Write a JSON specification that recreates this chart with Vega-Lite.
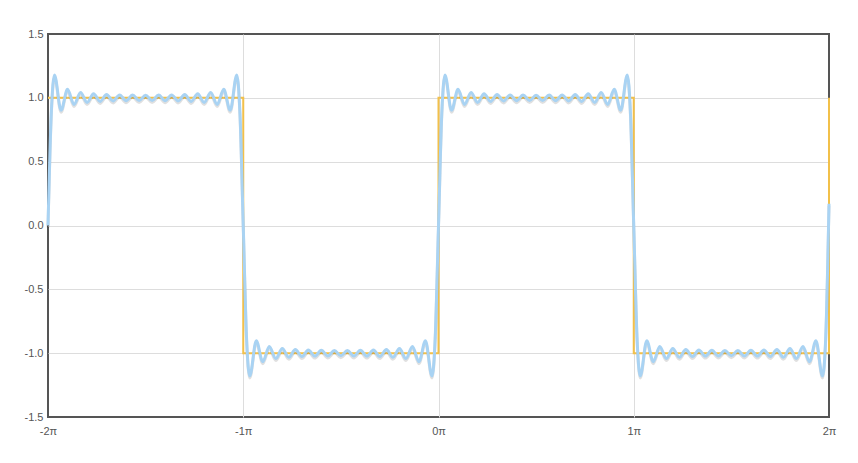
{
  "$schema": "https://vega.github.io/schema/vega-lite/v6.json",
  "autosize": "none",
  "width": 781,
  "height": 383,
  "padding": {"left": 48, "top": 34, "right": 29, "bottom": 46},
  "background": "#ffffff",
  "config": {
    "view": {"stroke": "#555555", "strokeWidth": 2, "strokeOpacity": 1},
    "font": "Liberation Sans",
    "axis": {
      "labelFont": "Liberation Sans",
      "labelFontSize": 11,
      "labelColor": "#555555",
      "gridColor": "#dddddd",
      "gridWidth": 1,
      "domain": false,
      "ticks": false,
      "title": null
    }
  },
  "datasets": {
    "fourier": [
      {"x": -2, "y": 0}, {"x": -1.9833, "y": 0.873}, {"x": -1.9667, "y": 1.179}, {"x": -1.9333, "y": 0.902},
      {"x": -1.9, "y": 1.067}, {"x": -1.8667, "y": 0.948}, {"x": -1.8333, "y": 1.042}, {"x": -1.8, "y": 0.964},
      {"x": -1.7667, "y": 1.032}, {"x": -1.7333, "y": 0.972}, {"x": -1.7, "y": 1.026}, {"x": -1.6667, "y": 0.976},
      {"x": -1.6333, "y": 1.023}, {"x": -1.6, "y": 0.978}, {"x": -1.5667, "y": 1.022}, {"x": -1.5333, "y": 0.979},
      {"x": -1.5, "y": 1.021}, {"x": -1.4667, "y": 0.979}, {"x": -1.4333, "y": 1.022}, {"x": -1.4, "y": 0.978},
      {"x": -1.3667, "y": 1.023}, {"x": -1.3333, "y": 0.976}, {"x": -1.3, "y": 1.026}, {"x": -1.2667, "y": 0.972},
      {"x": -1.2333, "y": 1.032}, {"x": -1.2, "y": 0.964}, {"x": -1.1667, "y": 1.042}, {"x": -1.1333, "y": 0.948},
      {"x": -1.1, "y": 1.067}, {"x": -1.0667, "y": 0.902}, {"x": -1.0333, "y": 1.179}, {"x": -1.0167, "y": 0.873},
      {"x": -1, "y": 0}, {"x": -0.9833, "y": -0.873}, {"x": -0.9667, "y": -1.179}, {"x": -0.9333, "y": -0.902},
      {"x": -0.9, "y": -1.067}, {"x": -0.8667, "y": -0.948}, {"x": -0.8333, "y": -1.042}, {"x": -0.8, "y": -0.964},
      {"x": -0.7667, "y": -1.032}, {"x": -0.7333, "y": -0.972}, {"x": -0.7, "y": -1.026}, {"x": -0.6667, "y": -0.976},
      {"x": -0.6333, "y": -1.023}, {"x": -0.6, "y": -0.978}, {"x": -0.5667, "y": -1.022}, {"x": -0.5333, "y": -0.979},
      {"x": -0.5, "y": -1.021}, {"x": -0.4667, "y": -0.979}, {"x": -0.4333, "y": -1.022}, {"x": -0.4, "y": -0.978},
      {"x": -0.3667, "y": -1.023}, {"x": -0.3333, "y": -0.976}, {"x": -0.3, "y": -1.026}, {"x": -0.2667, "y": -0.972},
      {"x": -0.2333, "y": -1.032}, {"x": -0.2, "y": -0.964}, {"x": -0.1667, "y": -1.042}, {"x": -0.1333, "y": -0.948},
      {"x": -0.1, "y": -1.067}, {"x": -0.0667, "y": -0.902}, {"x": -0.0333, "y": -1.179}, {"x": -0.0167, "y": -0.873},
      {"x": 0, "y": 0}, {"x": 0.0167, "y": 0.873}, {"x": 0.0333, "y": 1.179}, {"x": 0.0667, "y": 0.902},
      {"x": 0.1, "y": 1.067}, {"x": 0.1333, "y": 0.948}, {"x": 0.1667, "y": 1.042}, {"x": 0.2, "y": 0.964},
      {"x": 0.2333, "y": 1.032}, {"x": 0.2667, "y": 0.972}, {"x": 0.3, "y": 1.026}, {"x": 0.3333, "y": 0.976},
      {"x": 0.3667, "y": 1.023}, {"x": 0.4, "y": 0.978}, {"x": 0.4333, "y": 1.022}, {"x": 0.4667, "y": 0.979},
      {"x": 0.5, "y": 1.021}, {"x": 0.5333, "y": 0.979}, {"x": 0.5667, "y": 1.022}, {"x": 0.6, "y": 0.978},
      {"x": 0.6333, "y": 1.023}, {"x": 0.6667, "y": 0.976}, {"x": 0.7, "y": 1.026}, {"x": 0.7333, "y": 0.972},
      {"x": 0.7667, "y": 1.032}, {"x": 0.8, "y": 0.964}, {"x": 0.8333, "y": 1.042}, {"x": 0.8667, "y": 0.948},
      {"x": 0.9, "y": 1.067}, {"x": 0.9333, "y": 0.902}, {"x": 0.9667, "y": 1.179}, {"x": 0.9833, "y": 0.873},
      {"x": 1, "y": 0}, {"x": 1.0167, "y": -0.873}, {"x": 1.0333, "y": -1.179}, {"x": 1.0667, "y": -0.902},
      {"x": 1.1, "y": -1.067}, {"x": 1.1333, "y": -0.948}, {"x": 1.1667, "y": -1.042}, {"x": 1.2, "y": -0.964},
      {"x": 1.2333, "y": -1.032}, {"x": 1.2667, "y": -0.972}, {"x": 1.3, "y": -1.026}, {"x": 1.3333, "y": -0.976},
      {"x": 1.3667, "y": -1.023}, {"x": 1.4, "y": -0.978}, {"x": 1.4333, "y": -1.022}, {"x": 1.4667, "y": -0.979},
      {"x": 1.5, "y": -1.021}, {"x": 1.5333, "y": -0.979}, {"x": 1.5667, "y": -1.022}, {"x": 1.6, "y": -0.978},
      {"x": 1.6333, "y": -1.023}, {"x": 1.6667, "y": -0.976}, {"x": 1.7, "y": -1.026}, {"x": 1.7333, "y": -0.972},
      {"x": 1.7667, "y": -1.032}, {"x": 1.8, "y": -0.964}, {"x": 1.8333, "y": -1.042}, {"x": 1.8667, "y": -0.948},
      {"x": 1.9, "y": -1.067}, {"x": 1.9333, "y": -0.902}, {"x": 1.9667, "y": -1.179}, {"x": 1.9833, "y": -0.873},
      {"x": 2, "y": 0.17}
    ],
    "square": [
      {"x": -2, "y": 1, "o": 0}, {"x": -1, "y": 1, "o": 1}, {"x": -1, "y": -1, "o": 2},
      {"x": 0, "y": -1, "o": 3}, {"x": 0, "y": 1, "o": 4}, {"x": 1, "y": 1, "o": 5},
      {"x": 1, "y": -1, "o": 6}, {"x": 2, "y": -1, "o": 7}, {"x": 2, "y": 1, "o": 8}
    ]
  },
  "encoding": {
    "x": {
      "field": "x", "type": "quantitative",
      "scale": {"domain": [-2, 2], "nice": false, "zero": false},
      "axis": {
        "values": [-2, -1, 0, 1, 2],
        "labelExpr": "datum.value + 'π'",
        "labelPadding": 8,
        "grid": true,
        "gridOpacity": {"condition": {"test": "datum.value == -2 || datum.value == 2", "value": 0}, "value": 1},
        "labelFlush": false
      }
    },
    "y": {
      "field": "y", "type": "quantitative",
      "scale": {"domain": [-1.5, 1.5], "nice": false, "zero": false},
      "axis": {
        "values": [-1.5, -1, -0.5, 0, 0.5, 1, 1.5],
        "labelExpr": "replace(format(datum.value, '.1f'), '\u2212', '-')",
        "labelPadding": 5,
        "grid": true,
        "gridOpacity": {"condition": {"test": "datum.value == -1.5 || datum.value == 1.5", "value": 0}, "value": 1}
      }
    }
  },
  "layer": [
    {
      "data": {"name": "square"},
      "mark": {"type": "line", "color": "#f2c04a", "strokeWidth": 2},
      "encoding": {"order": {"field": "o", "type": "quantitative"}}
    },
    {
      "data": {"name": "fourier"},
      "mark": {"type": "line", "interpolate": "monotone", "color": "#000000", "opacity": 0.12, "strokeWidth": 3, "yOffset": 2},
      "encoding": {}
    },
    {
      "data": {"name": "fourier"},
      "mark": {"type": "line", "interpolate": "monotone", "color": "#a9d3f3", "strokeWidth": 3},
      "encoding": {}
    }
  ]
}
